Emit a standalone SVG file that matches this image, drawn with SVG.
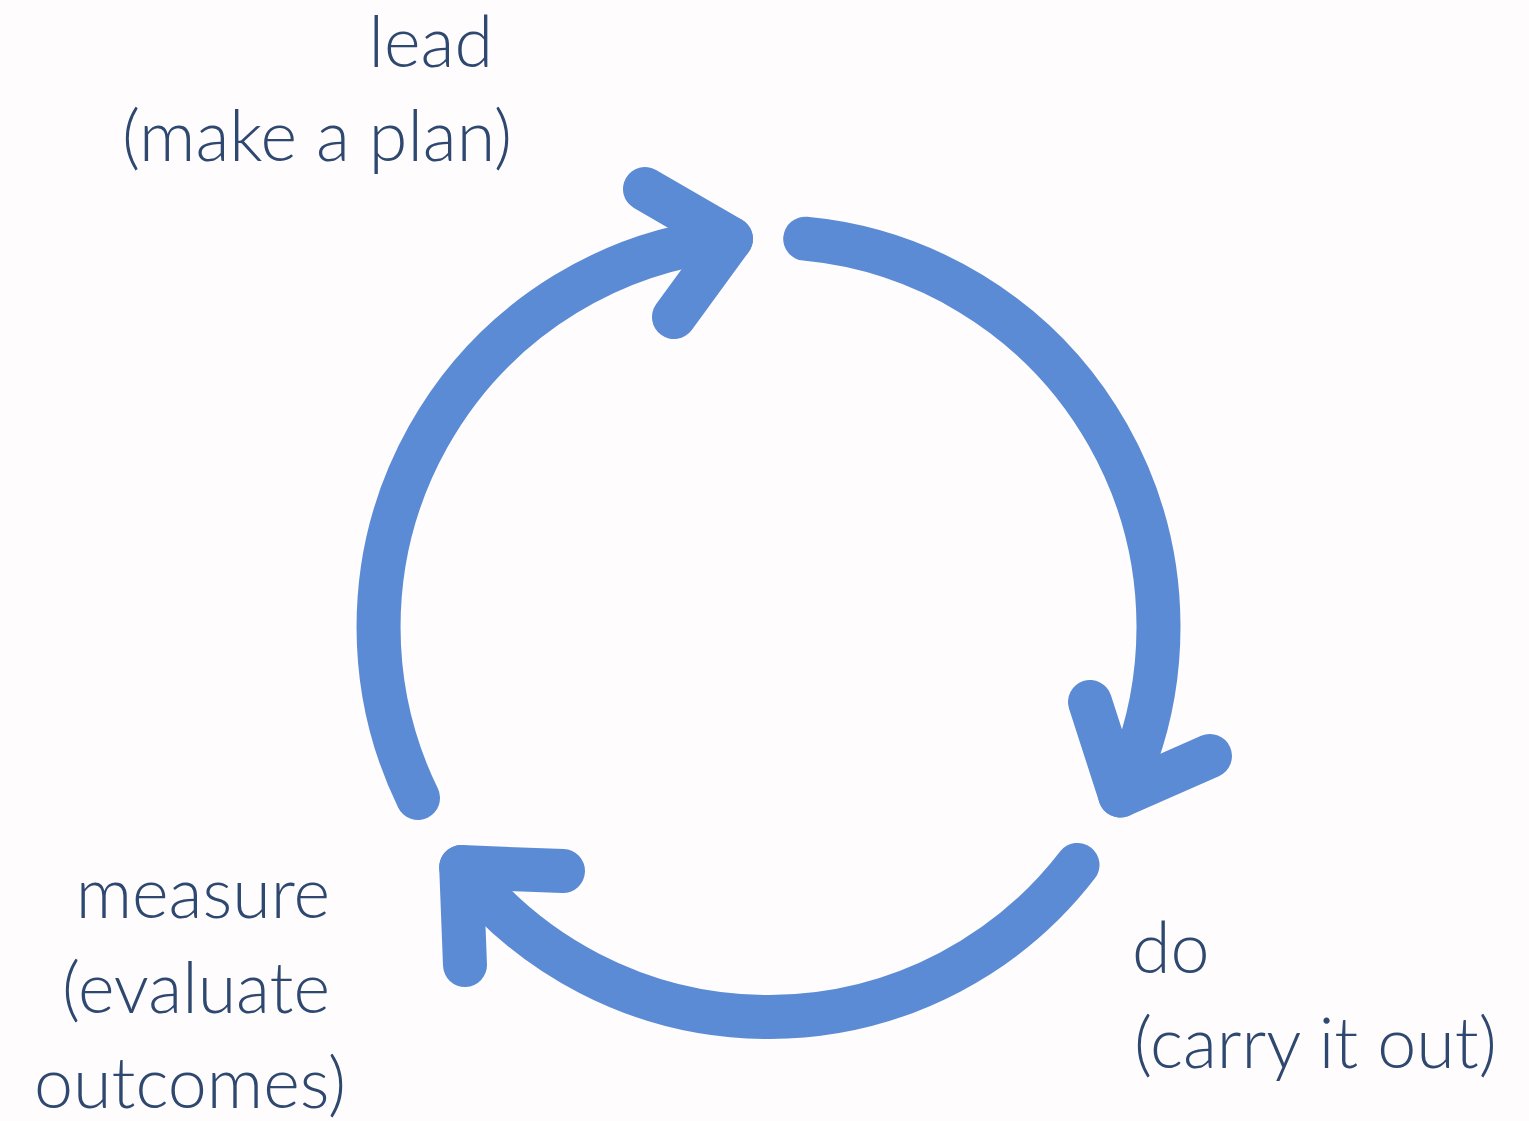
<svg xmlns="http://www.w3.org/2000/svg" width="1529" height="1121" viewBox="0 0 1529 1121">
<style>
.arc{fill:none;stroke:#5B8BD4;stroke-width:44;stroke-linecap:round;stroke-linejoin:round}
.lbl{font-family:Lato,"Open Sans",sans-serif;font-size:70px;font-weight:300;fill:#2F4870;text-anchor:end}
.lbl2{font-family:Lato,"Open Sans",sans-serif;font-size:70px;font-weight:300;fill:#2F4870;text-anchor:start}
</style>
<rect width="1529" height="1121" fill="#FEFCFD"/>
<g id="connectors">
<path class="arc" d="M805.2,238.7 A390,390 0 0 1 1120.2,795.5"/>
<polyline class="arc" points="1090,702 1120.2,795.5 1210,756"/>
<path class="arc" d="M1077.5,864.9 A390,390 0 0 1 461.2,867.1"/>
<polyline class="arc" points="563,871 461.2,867.1 465,965"/>
<path class="arc" d="M418,798 A390,390 0 0 1 731,238.9"/>
<polyline class="arc" points="645,189 731,238.9 674,317"/>
</g>
<g id="lead"><text class="lbl" x="493" y="67">lead</text><text class="lbl" x="512" y="161">(make a plan)</text></g>
<g id="do"><text class="lbl2" x="1132" y="973">do</text><text class="lbl2" x="1134" y="1068">(carry it out)</text></g>
<g id="measure"><text class="lbl" x="330" y="918">measure</text><text class="lbl" x="330" y="1013">(evaluate</text><text class="lbl" x="346" y="1108">outcomes)</text></g>
</svg>
